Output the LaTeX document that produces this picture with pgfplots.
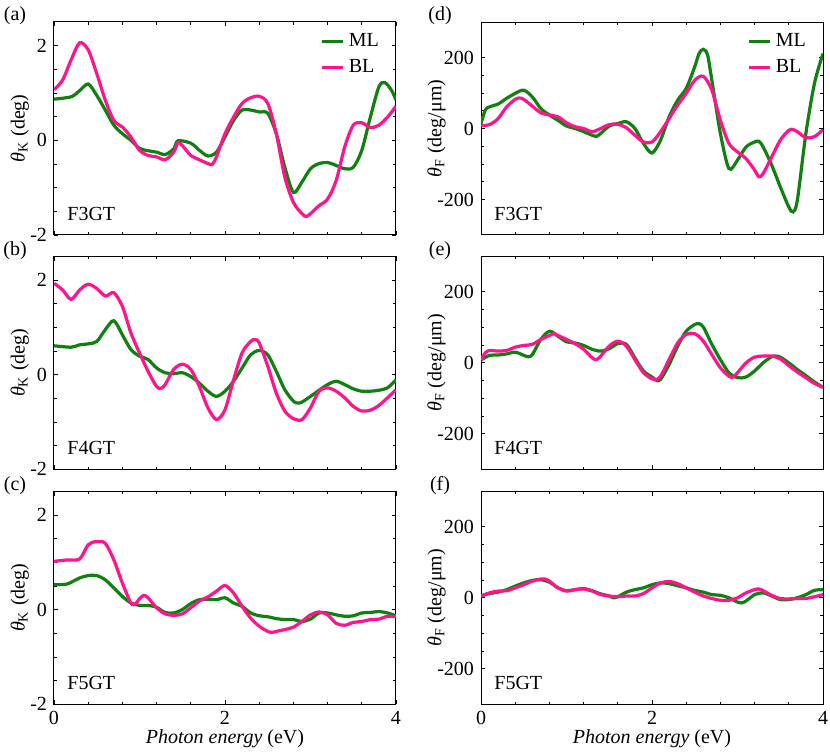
\documentclass[border=0pt]{standalone}
\usepackage{fontspec}
\setmainfont{Liberation Serif}
\usepackage{pgfplots}
\pgfplotsset{compat=1.18}
\definecolor{mlgreen}{RGB}{16,128,16}
\definecolor{blpink}{RGB}{255,20,140}
\pgfplotsset{
  pan/.style={scale only axis, width=171pt, height=106.5pt, anchor=south west,
    xmin=0, xmax=4, xtick={0,2,4}, minor x tick num=4,
    tick align=inside, xtick pos=both, ytick pos=both,
    major tick length=2.2pt, minor tick length=1.3pt,
    axis line style={line width=0.5pt}, every tick/.style={black, line width=0.4pt},
    tick label style={font=\fontsize{10}{12}\selectfont},
    label style={font=\fontsize{10}{12}\selectfont},
    /pgf/number format/assume math mode=true, clip=true,
    legend style={draw=none, fill=none, at={(rel axis cs:0.98,0.985)}, anchor=north east,
      font=\fontsize{10}{12}\selectfont, row sep=1pt, cells={anchor=west}},
    legend image code/.code={\draw[#1, line width=1.6pt] (0pt,0pt) -- (10.5pt,0pt);},
    xlabel style={at={(axis description cs:0.5,-0.16)}, anchor=center}},
  kerr/.style={pan, ymin=-2, ymax=2.5, ytick={-2,0,2}, minor y tick num=3,
    ylabel={\textit{θ}\textsubscript{K} (deg)},
    ylabel style={at={(axis description cs:-0.1,0.5)}, rotate=0, anchor=center}},
  fara/.style={pan, ymin=-300, ymax=300, ytick={-200,0,200}, minor y tick num=3,
    ylabel={\textit{θ}\textsubscript{F} (deg/μm)},
    ylabel style={at={(axis description cs:-0.13,0.5)}, rotate=0, anchor=center}},
  ml/.style={mlgreen, line width=1.6pt, smooth, no marks},
  bl/.style={blpink, line width=1.6pt, smooth, no marks}}
\newcommand{\tag}[1]{\node[anchor=west, inner sep=0pt] at (rel axis cs:0.038,0.1) {#1};}
\begin{document}
\begin{tikzpicture}
\useasboundingbox (0,0) rectangle (415pt,375.5pt);
% (a)
\begin{axis}[kerr, name=a, at={(27pt,258pt)}, xticklabel=\empty]
\addplot[ml] coordinates {(0,0.87) (0.2,0.92) (0.3,1.05) (0.4,1.19) (0.5,0.95) (0.6,0.64) (0.7,0.32) (0.8,0.14) (0.9,0.0) (1.0,-0.17) (1.1,-0.22) (1.2,-0.25) (1.3,-0.30) (1.4,-0.18) (1.45,-0.01) (1.6,-0.06) (1.7,-0.21) (1.8,-0.33) (1.9,-0.25) (2.0,0.07) (2.1,0.42) (2.2,0.64) (2.3,0.64) (2.4,0.60) (2.5,0.57) (2.6,0.14) (2.7,-0.57) (2.8,-1.10) (2.9,-0.88) (3.0,-0.60) (3.1,-0.49) (3.2,-0.47) (3.3,-0.53) (3.4,-0.60) (3.5,-0.57) (3.6,-0.21) (3.7,0.49) (3.8,1.13) (3.87,1.22) (3.95,1.05) (4.0,0.85)};
\addplot[bl] coordinates {(0,1.07) (0.1,1.27) (0.2,1.70) (0.3,2.06) (0.4,1.91) (0.5,1.41) (0.6,0.85) (0.7,0.42) (0.8,0.28) (0.9,0.07) (1.0,-0.21) (1.1,-0.32) (1.2,-0.35) (1.3,-0.41) (1.4,-0.25) (1.45,-0.05) (1.5,-0.11) (1.6,-0.32) (1.7,-0.41) (1.8,-0.49) (1.85,-0.51) (1.9,-0.35) (2.0,0.14) (2.1,0.49) (2.2,0.78) (2.3,0.90) (2.4,0.93) (2.5,0.78) (2.6,0.14) (2.7,-0.78) (2.8,-1.31) (2.9,-1.55) (2.95,-1.61) (3.0,-1.55) (3.1,-1.38) (3.2,-1.24) (3.3,-0.85) (3.4,-0.14) (3.5,0.32) (3.6,0.37) (3.7,0.27) (3.8,0.32) (3.9,0.49) (4.0,0.72)};
\legend{ML, BL}
\tag{F3GT}
\end{axis}
\node at ([xshift=-19.5pt, yshift=3pt]a.north west) {(a)};
% (b)
\begin{axis}[kerr, name=b, at={(27pt,140.85pt)}, xticklabel=\empty]
\addplot[ml] coordinates {(0,0.61) (0.2,0.58) (0.3,0.63) (0.4,0.65) (0.5,0.70) (0.6,0.95) (0.7,1.14) (0.8,0.84) (0.9,0.53) (1.0,0.39) (1.1,0.32) (1.2,0.14) (1.3,0.04) (1.4,0.02) (1.5,0.04) (1.6,-0.04) (1.7,-0.18) (1.8,-0.35) (1.9,-0.46) (2.0,-0.35) (2.1,-0.14) (2.2,0.14) (2.3,0.42) (2.4,0.51) (2.5,0.42) (2.6,0.07) (2.7,-0.32) (2.8,-0.56) (2.85,-0.60) (2.9,-0.58) (3.0,-0.46) (3.1,-0.33) (3.2,-0.21) (3.3,-0.14) (3.4,-0.21) (3.5,-0.30) (3.6,-0.35) (3.7,-0.35) (3.8,-0.33) (3.9,-0.28) (4.0,-0.11)};
\addplot[bl] coordinates {(0,1.93) (0.1,1.79) (0.2,1.59) (0.3,1.79) (0.4,1.91) (0.5,1.82) (0.6,1.66) (0.7,1.73) (0.8,1.44) (0.9,0.88) (1.0,0.46) (1.1,0.07) (1.2,-0.25) (1.25,-0.29) (1.3,-0.21) (1.4,0.11) (1.5,0.22) (1.6,0.11) (1.7,-0.25) (1.8,-0.70) (1.9,-0.95) (2.0,-0.74) (2.1,-0.11) (2.2,0.46) (2.3,0.70) (2.35,0.74) (2.4,0.67) (2.5,0.18) (2.6,-0.39) (2.7,-0.77) (2.8,-0.93) (2.9,-0.95) (3.0,-0.70) (3.1,-0.35) (3.2,-0.28) (3.3,-0.35) (3.4,-0.49) (3.5,-0.67) (3.6,-0.77) (3.7,-0.75) (3.8,-0.65) (3.9,-0.49) (4.0,-0.32)};
\tag{F4GT}
\end{axis}
\node at ([xshift=-19.5pt, yshift=3pt]b.north west) {(b)};
% (c)
\begin{axis}[kerr, name=c, at={(27pt,23.35pt)}, xlabel={\textit{Photon energy} (eV)}]
\addplot[ml] coordinates {(0,0.53) (0.15,0.54) (0.3,0.67) (0.4,0.72) (0.5,0.72) (0.6,0.63) (0.7,0.46) (0.8,0.28) (0.9,0.14) (1.0,0.09) (1.1,0.09) (1.2,0.05) (1.3,-0.06) (1.4,-0.07) (1.5,0.0) (1.6,0.13) (1.7,0.21) (1.8,0.22) (1.9,0.21) (2.0,0.25) (2.1,0.14) (2.2,0.07) (2.3,-0.07) (2.4,-0.13) (2.5,-0.15) (2.6,-0.19) (2.7,-0.21) (2.8,-0.21) (2.9,-0.25) (3.0,-0.20) (3.1,-0.07) (3.2,-0.07) (3.3,-0.11) (3.4,-0.14) (3.5,-0.13) (3.6,-0.07) (3.7,-0.06) (3.8,-0.04) (3.9,-0.07) (4.0,-0.13)};
\addplot[bl] coordinates {(0,1.02) (0.15,1.05) (0.3,1.07) (0.4,1.37) (0.5,1.44) (0.6,1.40) (0.7,1.05) (0.8,0.56) (0.9,0.14) (0.95,0.12) (1.0,0.23) (1.05,0.30) (1.1,0.25) (1.2,0.04) (1.3,-0.09) (1.4,-0.12) (1.5,-0.09) (1.6,0.04) (1.7,0.18) (1.8,0.27) (1.9,0.39) (2.0,0.51) (2.1,0.35) (2.2,0.07) (2.3,-0.18) (2.4,-0.35) (2.5,-0.46) (2.55,-0.48) (2.6,-0.46) (2.7,-0.42) (2.8,-0.37) (2.9,-0.25) (3.0,-0.11) (3.1,-0.05) (3.2,-0.11) (3.3,-0.29) (3.4,-0.33) (3.5,-0.27) (3.6,-0.25) (3.7,-0.21) (3.8,-0.20) (3.9,-0.14) (4.0,-0.15)};
\tag{F5GT}
\end{axis}
\node at ([xshift=-19.5pt, yshift=3pt]c.north west) {(c)};
% (d)
\begin{axis}[fara, name=d, at={(240.5pt,258pt)}, xticklabel=\empty]
\addplot[ml] coordinates {(0,14) (0.05,52) (0.1,61) (0.2,69) (0.3,85) (0.4,99) (0.5,108) (0.6,89) (0.7,56) (0.8,38) (0.9,23) (1.0,7) (1.1,0) (1.2,-9) (1.3,-19) (1.35,-22) (1.4,-14) (1.5,7) (1.6,14) (1.7,19) (1.8,0) (1.9,-42) (2.0,-69) (2.1,-33) (2.2,33) (2.3,80) (2.4,113) (2.5,174) (2.55,211) (2.6,223) (2.65,207) (2.7,136) (2.8,-14) (2.9,-113) (3.0,-89) (3.1,-52) (3.2,-38) (3.25,-36) (3.3,-52) (3.4,-103) (3.5,-164) (3.6,-221) (3.65,-235) (3.7,-202) (3.8,-14) (3.9,127) (4.0,211)};
\addplot[bl] coordinates {(0,8) (0.1,11) (0.2,28) (0.3,61) (0.4,82) (0.45,86) (0.5,82) (0.6,63) (0.7,44) (0.8,38) (0.9,33) (1.0,16) (1.1,5) (1.2,0) (1.3,-9) (1.4,0) (1.5,11) (1.6,12) (1.7,2) (1.8,-19) (1.9,-38) (2.0,-38) (2.1,-9) (2.2,28) (2.3,66) (2.4,99) (2.5,136) (2.6,147) (2.7,108) (2.8,23) (2.9,-42) (3.0,-66) (3.1,-85) (3.2,-117) (3.25,-136) (3.3,-127) (3.4,-80) (3.5,-33) (3.6,-5) (3.65,-3) (3.7,-9) (3.8,-26) (3.9,-23) (4.0,-3)};
\legend{ML, BL}
\tag{F3GT}
\end{axis}
\node at ([xshift=-20.5pt, yshift=3pt]d.north west) {(d)};
% (e)
\begin{axis}[fara, name=e, at={(240.5pt,140.85pt)}, xticklabel=\empty]
\addplot[ml] coordinates {(0,8) (0.1,21) (0.2,22) (0.3,25) (0.4,30) (0.5,21) (0.55,17) (0.6,23) (0.7,66) (0.8,89) (0.9,75) (1.0,59) (1.1,56) (1.2,49) (1.3,38) (1.4,33) (1.5,40) (1.6,54) (1.7,52) (1.8,14) (1.9,-23) (2.0,-40) (2.05,-49) (2.1,-47) (2.2,-5) (2.3,47) (2.4,89) (2.5,108) (2.55,110) (2.6,101) (2.7,52) (2.8,9) (2.9,-28) (3.0,-42) (3.1,-40) (3.2,-23) (3.3,0) (3.4,17) (3.45,19) (3.5,16) (3.6,0) (3.7,-19) (3.8,-36) (3.9,-54) (4.0,-69)};
\addplot[bl] coordinates {(0,8) (0.05,28) (0.1,35) (0.2,33) (0.3,35) (0.4,44) (0.5,49) (0.6,52) (0.7,66) (0.8,77) (0.85,82) (0.9,77) (1.0,66) (1.1,54) (1.2,38) (1.3,14) (1.35,9) (1.4,19) (1.5,47) (1.6,61) (1.7,47) (1.8,9) (1.9,-28) (2.0,-45) (2.05,-47) (2.1,-38) (2.2,9) (2.3,56) (2.4,80) (2.5,82) (2.6,61) (2.7,23) (2.8,-14) (2.9,-38) (2.95,-40) (3.0,-28) (3.1,0) (3.2,16) (3.3,19) (3.4,19) (3.5,11) (3.6,-8) (3.7,-26) (3.8,-42) (3.9,-58) (4.0,-69)};
\tag{F4GT}
\end{axis}
\node at ([xshift=-20.5pt, yshift=3pt]e.north west) {(e)};
% (f)
\begin{axis}[fara, name=f, at={(240.5pt,23.35pt)}, xlabel={\textit{Photon energy} (eV)}]
\addplot[ml] coordinates {(0,5) (0.1,12) (0.2,16) (0.3,23) (0.4,33) (0.5,42) (0.6,49) (0.7,51) (0.8,44) (0.9,28) (1.0,20) (1.1,23) (1.2,26) (1.3,20) (1.4,11) (1.5,5) (1.55,0) (1.6,3) (1.7,16) (1.8,23) (1.9,28) (2.0,37) (2.1,42) (2.2,40) (2.3,34) (2.4,28) (2.5,21) (2.6,16) (2.7,9) (2.8,7) (2.9,0) (3.0,-12) (3.05,-14) (3.1,-9) (3.2,9) (3.3,14) (3.4,5) (3.5,-5) (3.6,-5) (3.7,0) (3.8,9) (3.9,21) (4.0,23)};
\addplot[bl] coordinates {(0,5) (0.1,14) (0.2,19) (0.3,20) (0.4,28) (0.5,37) (0.6,47) (0.7,53) (0.75,53) (0.8,47) (0.9,28) (1.0,19) (1.1,23) (1.2,25) (1.3,19) (1.4,9) (1.5,5) (1.6,3) (1.7,5) (1.8,5) (1.9,12) (2.0,28) (2.1,42) (2.2,46) (2.3,40) (2.4,28) (2.5,16) (2.6,5) (2.7,-2) (2.8,-7) (2.9,-7) (3.0,0) (3.1,14) (3.2,23) (3.25,25) (3.3,20) (3.4,7) (3.5,-2) (3.6,-3) (3.7,-2) (3.8,-2) (3.9,3) (4.0,9)};
\tag{F5GT}
\end{axis}
\node at ([xshift=-20.5pt, yshift=3pt]f.north west) {(f)};
\end{tikzpicture}
\end{document}
